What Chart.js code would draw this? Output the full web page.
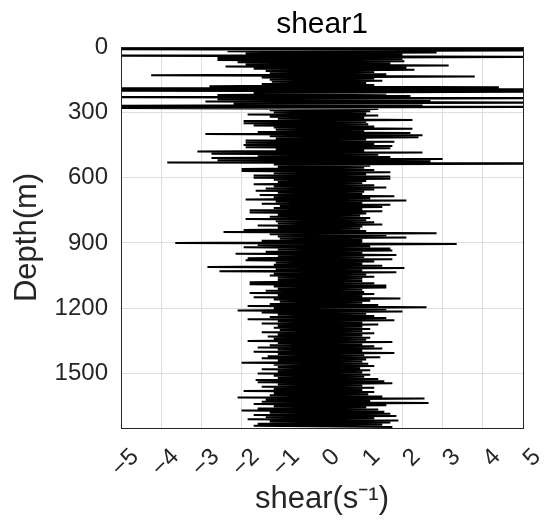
<!DOCTYPE html>
<html>
<head>
<meta charset="utf-8">
<script src="https://cdn.jsdelivr.net/npm/chart.js@4/dist/chart.umd.min.js"></script>
<style>
html,body{margin:0;padding:0;background:#fff;}
#wrap{width:550px;height:526px;position:relative;}
</style>
</head>
<body>
<div id="wrap"><canvas id="c" width="550" height="526"></canvas></div>
<script>
const chartTitle = 'shear1';
const xTitle = 'shear(s\u207B\u00B9)';
const yTitle = 'Depth(m)';
const xTicks = [-5, -4, -3, -2, -1, 0, 1, 2, 3, 4, 5];
const yTicks = [0, 300, 600, 900, 1200, 1500];
const depthMax = 1750;
const depthStep = 10;      // m between successive left excursions
const depthStart = 0;

// left-hand (negative) excursion of each 10 m row, at depth d
const leftShear = [
  -6, -6, -2.35, -1.9, -6, -2.6, -2.6, -2.1, -1.9, -2.4,
  -1.7, -1.4, -1.3, -4.25, -1.5, -1.3, -1.25, -1.5, -2.8, -6,
  -6, -1.7, -2.6, -6, -2.6, -2.9, -2.2, -6, -6, -1.3,
  -1.2, -1.85, -1.3, -1.1, -1.95, -1.95, -1.7, -1.2, -1.15, -1.6,
  -2.9, -1.3, -1.15, -1.9, -1.9, -1.95, -1.9, -1.15, -3.1, -2.75,
  -1.6, -2.75, -2.6, -3.85, -1.2, -1.1, -2.0, -2.0, -1.2, -1.7,
  -1.7, -1.2, -1.1, -1.7, -1.2, -1.4, -1.65, -1.1, -1.55, -1.2,
  -1.9, -1.15, -1.5, -1.05, -1.2, -1.8, -1.8, -1.1, -1.3, -1.9,
  -1.15, -1.1, -1.6, -1.1, -1.95, -2.45, -1.3, -1.1, -1.05, -1.5,
  -3.65, -1.6, -1.95, -1.1, -1.4, -2.15, -1.1, -1.85, -1.9, -1.15,
  -1.2, -2.85, -1.15, -2.55, -1.2, -1.3, -1.1, -1.1, -1.8, -1.8,
  -1.2, -1.1, -1.4, -1.8, -1.1, -1.7, -1.2, -1.05, -1.3, -1.85,
  -1.2, -2.1, -1.5, -1.1, -1.3, -1.85, -1.1, -1.5, -1.1, -1.2,
  -1.05, -1.5, -1.1, -1.35, -1.2, -1.85, -1.1, -1.3, -1.6, -1.1,
  -1.7, -1.1, -1.35, -1.5, -1.1, -2.0, -1.2, -1.1, -1.5, -1.1,
  -1.6, -1.2, -1.1, -1.65, -1.6, -1.1, -1.5, -1.2, -1.95, -1.2,
  -1.3, -2.1, -1.4, -1.5, -1.7, -1.2, -1.6, -2.0, -1.3, -1.7,
  -1.4, -1.85, -1.3, -1.6, -1.7
];
// right-hand (positive) excursion of each row, at depth d + 5 m
const rightShear = [
  6, 6, 2.85, 2.0, 6, 2.0, 2.05, 1.7, 3.15, 2.1,
  2.3, 1.3, 1.6, 3.8, 1.3, 1.5, 1.1, 1.3, 4.4, 6,
  6, 1.6, 2.2, 6, 2.7, 6, 2.5, 6, 1.4, 1.2,
  1.1, 1.4, 1.05, 2.25, 1.1, 1.15, 1.3, 2.25, 1.05, 2.2,
  2.5, 2.4, 1.1, 1.8, 1.3, 1.75, 1.7, 1.05, 2.5, 1.4,
  1.7, 3.0, 2.7, 6, 1.2, 1.05, 1.3, 1.7, 1.1, 1.7,
  1.7, 1.1, 1.0, 1.3, 1.6, 1.3, 1.05, 1.0, 1.8, 1.2,
  2.1, 1.0, 1.7, 1.5, 1.0, 1.5, 1.1, 0.95, 1.2, 1.1,
  1.3, 1.5, 1.0, 0.95, 1.1, 2.85, 1.6, 2.1, 1.0, 1.0,
  3.35, 1.2, 1.7, 1.75, 1.0, 1.85, 1.05, 1.75, 1.3, 1.0,
  1.5, 2.05, 1.0, 1.85, 1.1, 1.3, 1.0, 1.0, 1.3, 1.6,
  1.6, 1.0, 1.05, 1.3, 1.0, 1.95, 1.2, 1.0, 1.4, 2.6,
  1.6, 2.0, 1.1, 1.3, 1.6, 1.8, 1.0, 1.4, 1.0, 1.2,
  1.0, 1.3, 1.0, 1.2, 1.1, 1.75, 1.0, 1.3, 1.5, 1.0,
  1.8, 1.05, 1.45, 1.1, 1.0, 1.15, 1.3, 0.95, 1.2, 1.0,
  1.2, 1.05, 1.4, 1.55, 1.75, 1.0, 1.3, 1.0, 1.3, 1.15,
  1.5, 2.55, 1.2, 2.65, 1.6, 1.1, 1.4, 1.55, 1.7, 1.85,
  1.3, 1.9, 1.7, 1.5, 1.75
];

const profile = [];
leftShear.forEach((l, i) => {
  const d = depthStart + i * depthStep;
  profile.push({x: l, y: d});
  profile.push({x: rightShear[i], y: d + depthStep / 2});
});

const FONT = "'Liberation Sans', Arial, Helvetica, sans-serif";
const AX = '#262626';
const GRID = '#dedede';
const fmt = v => (v < 0 ? '\u2212' + Math.abs(v) : String(v));

new Chart(document.getElementById('c'), {
  type: 'scatter',
  data: {
    datasets: [{
      data: profile,
      showLine: true,
      borderColor: '#000',
      backgroundColor: '#000',
      borderWidth: 2,
      pointRadius: 0,
      fill: false,
      tension: 0
    }]
  },
  options: {
    responsive: false,
    animation: false,
    layout: {padding: {left: 0, right: 27, top: 0, bottom: 0}},
    plugins: {legend: {display: false}, tooltip: {enabled: false}, title: {display: false}},
    scales: {
      x: {
        type: 'linear', position: 'bottom', min: -5, max: 5,
        afterBuildTicks: s => { s.ticks = xTicks.map(v => ({value: v})); },
        afterFit: s => { s.height = 98; s.paddingLeft = 0; s.paddingRight = 0; },
        ticks: {minRotation: 45, maxRotation: 45, autoSkip: false, padding: 15, labelOffset: 14, color: AX,
          font: {family: FONT, size: 24}, callback: v => fmt(v)},
        grid: {color: GRID, drawTicks: false, lineWidth: 1},
        border: {color: AX, width: 1, z: 1},
        title: {display: true, text: xTitle, color: AX,
          font: {family: FONT, size: 31, lineHeight: 1}, padding: {top: 0, bottom: 11}}
      },
      y: {
        type: 'linear', position: 'left', reverse: true, min: 0, max: depthMax,
        afterBuildTicks: s => { s.ticks = yTicks.map(v => ({value: v})); },
        afterFit: s => { s.width = 121; s.paddingTop = 0; s.paddingBottom = 0; },
        ticks: {padding: 13, color: AX, autoSkip: false, font: {family: FONT, size: 24}, callback: v => String(v)},
        grid: {color: GRID, drawTicks: false, lineWidth: 1},
        border: {color: AX, width: 1, z: 1},
        title: {display: true, text: yTitle, color: AX,
          font: {family: FONT, size: 31, lineHeight: 1}, padding: {top: 12, bottom: 0}}
      },
      xTop: {
        type: 'linear', position: 'top', min: -5, max: 5,
        afterFit: s => { s.height = 47; s.paddingLeft = 0; s.paddingRight = 0; },
        ticks: {display: false},
        grid: {display: false, drawTicks: false},
        border: {color: AX, width: 1, z: 1},
        title: {display: true, text: chartTitle, color: '#000',
          font: {family: FONT, size: 30, lineHeight: 1}, padding: {top: 10, bottom: 0}}
      },
      yRight: {
        type: 'linear', position: 'right', reverse: true, min: 0, max: depthMax,
        afterFit: s => { s.width = 0; s.paddingTop = 0; s.paddingBottom = 0; },
        ticks: {display: false},
        grid: {display: false, drawTicks: false},
        border: {color: AX, width: 1, z: 1}
      }
    }
  }
});
</script>
</body>
</html>
